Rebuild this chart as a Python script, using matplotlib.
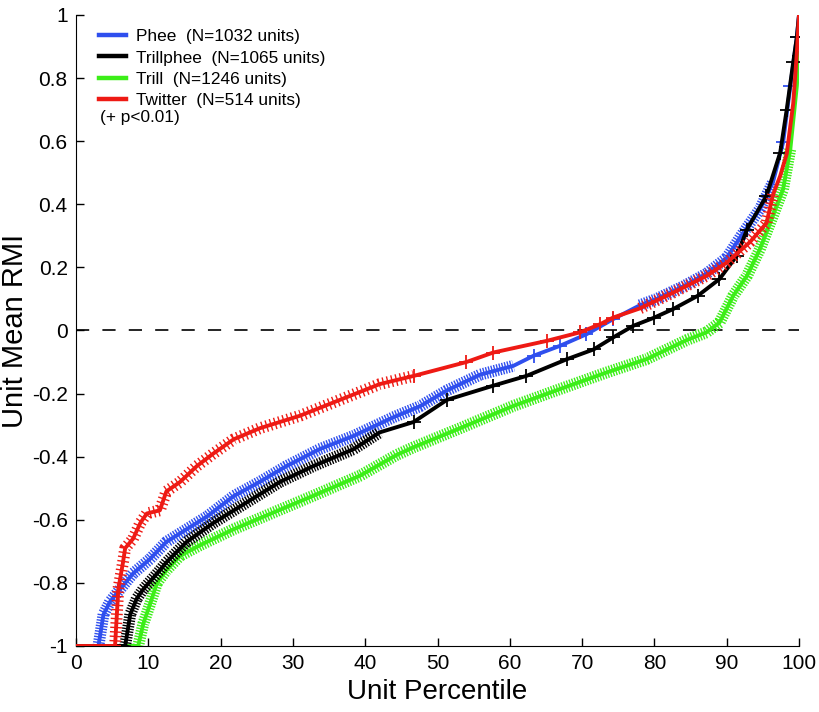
import matplotlib as mpl

mpl.use("Agg")
import matplotlib.pyplot as plt
import numpy as np

plt.rcParams["font.family"] = ["Liberation Sans", "DejaVu Sans"]
plt.rcParams["lines.scale_dashes"] = False

# curves: unit percentile vs sorted mean RMI
phee_pct = [0, 3.1, 3.8, 4.7, 6.1, 7.9, 10.2, 12.5, 15.3, 18.1, 21.8, 25.4, 29.1, 33.7, 38.4,
            43.9, 47.6, 51.3, 55.9, 60.5, 63.3, 66.9, 70.6, 74.3, 78, 80.3, 84, 87.2, 90, 92,
            94.6, 96.4, 97.8, 98.8, 99.7, 100]
phee_rmi = [-1, -1, -0.90, -0.86, -0.82, -0.77, -0.725, -0.67, -0.63, -0.59, -0.525, -0.48, -0.43,
            -0.376, -0.334, -0.275, -0.24, -0.19, -0.14, -0.112, -0.08, -0.049, -0.012, 0.036, 0.08,
            0.10, 0.14, 0.18, 0.23, 0.30, 0.385, 0.47, 0.596, 0.775, 0.93, 1.0]

trillphee_pct = [0, 6.8, 7.5, 8.4, 9.3, 11.6, 12.5, 15.3, 19, 23.6, 28.2, 32.8, 38.4, 42, 46.7,
                 51.3, 57.7, 62.3, 67.9, 71.6, 74.3, 77.1, 79.9, 82.6, 86, 89, 91.4, 92.8, 95.5,
                 97.4, 98.3, 99.2, 99.7, 100]
trillphee_rmi = [-1, -1, -0.90, -0.85, -0.82, -0.76, -0.735, -0.67, -0.61, -0.545, -0.48, -0.43,
                 -0.376, -0.323, -0.29, -0.22, -0.175, -0.144, -0.091, -0.06, -0.022, 0.015, 0.04,
                 0.068, 0.11, 0.163, 0.237, 0.32, 0.427, 0.564, 0.70, 0.85, 0.93, 1.0]

trill_pct = [0, 8.6, 9.3, 10.2, 11.2, 12.5, 14.4, 17.2, 21.8, 27.3, 32.8, 39.3, 44.3, 46.7, 53.1,
             60.5, 66.9, 73.4, 78.9, 84.5, 87.2, 89, 90.9, 92.8, 94.6, 96.4, 97.8, 98.8, 99.7, 100]
trill_rmi = [-1, -1, -0.93, -0.87, -0.80, -0.76, -0.714, -0.68, -0.63, -0.577, -0.524, -0.46,
             -0.395, -0.37, -0.31, -0.239, -0.186, -0.133, -0.091, -0.03, -0.006, 0.025, 0.11,
             0.173, 0.258, 0.364, 0.448, 0.575, 0.775, 0.88]

twitter_pct = [0, 5.4, 5.85, 6.5, 6.8, 7.9, 8.9, 9.8, 11.6, 12.5, 14.4, 16.7, 19, 21.8, 25.4, 31,
               36.5, 42, 46.7, 54, 57.7, 65.1, 69.7, 72.5, 74.3, 78, 80.3, 82.6, 87.2, 90, 93.2,
               95.5, 96.4, 97.4, 98.3, 99.2, 99.7, 100]
twitter_rmi = [-1, -1, -0.82, -0.735, -0.69, -0.66, -0.61, -0.58, -0.57, -0.51, -0.48, -0.43, -0.39,
               -0.345, -0.31, -0.27, -0.22, -0.17, -0.144, -0.10, -0.07, -0.033, -0.006, 0.02,
               0.041, 0.07, 0.095, 0.12, 0.173, 0.215, 0.28, 0.34, 0.43, 0.49, 0.56, 0.72, 0.88, 1.0]

# percentile ranges where nearly every unit is significant (dense + marks)
phee_dense = [(3.1, 62), (76, 96.4)]
trillphee_dense = [(6.8, 45)]
trill_dense = [(8.6, 98.8)]
twitter_dense = [(5.4, 46.7), (77, 96.4)]
# ranges where significant units are only occasional
phee_sparse = [(62, 76), (97, 99.8)]
trillphee_sparse = [(45, 99.8)]
trill_sparse = []
twitter_sparse = [(46, 77)]

series = [
    ("Phee  (N=1032 units)", phee_pct, phee_rmi, phee_dense, phee_sparse, "#2f4fee"),
    ("Trill  (N=1246 units)", trill_pct, trill_rmi, trill_dense, trill_sparse, "#3cee18"),
    ("Trillphee  (N=1065 units)", trillphee_pct, trillphee_rmi, trillphee_dense, trillphee_sparse, "#000000"),
    ("Twitter  (N=514 units)", twitter_pct, twitter_rmi, twitter_dense, twitter_sparse, "#ee1a14"),
]
legend_order = [0, 2, 1, 3]

fig = plt.figure(figsize=(8.19, 7.12), dpi=100)
ax = fig.add_axes([0.0928, 0.0927, 0.8828, 0.8863])

ax.axhline(0, color="black", lw=1.2, linestyle=(0, (9.5, 9.5)), zorder=1)

handles = []
for i, (label, pct, rmi, dense, sparse, color) in enumerate(series):
    pct = np.array(pct)
    rmi = np.array(rmi)
    z = 2 + i
    for lo, hi in dense:
        m = (pct >= lo) & (pct <= hi)
        # thick short-dashed stroke stands in for a run of + marks
        gap = 2.2 if color == "#ee1a14" else 1.0
        ax.plot(pct[m], rmi[m], color=color, lw=8.5, linestyle=(0, (1.0, gap)),
                solid_capstyle="butt", dash_capstyle="butt", zorder=z)
    for lo, hi in sparse:
        m = (pct >= lo) & (pct <= hi)
        ax.plot(pct[m], rmi[m], "+", color=color, ms=10, mew=1.3, zorder=z)
    (h,) = ax.plot(pct, rmi, color=color, lw=2.8, zorder=z)
    handles.append(h)

leg = ax.legend([handles[k] for k in legend_order], [series[k][0] for k in legend_order],
                loc="upper left", bbox_to_anchor=(0.008, 1.005), frameon=False, fontsize=12.4,
                handlelength=1.55, handletextpad=0.6, labelspacing=0.37, borderaxespad=0.6)
for line in leg.get_lines():
    line.set_linewidth(3.2)
ax.text(0.033, 0.837, "(+ p<0.01)", transform=ax.transAxes, fontsize=12.4, va="center")

ax.set_xlim(0, 100)
ax.set_ylim(-1, 1)
ax.set_xticks(np.arange(0, 101, 10))
ax.set_yticks(np.round(np.arange(-1, 1.01, 0.2), 1))
ax.set_yticklabels(["-1", "-0.8", "-0.6", "-0.4", "-0.2", "0", "0.2", "0.4", "0.6", "0.8", "1"])
ax.tick_params(direction="in", length=6, width=1, labelsize=15, pad=6)
ax.spines["top"].set_visible(False)
ax.spines["right"].set_visible(False)
ax.set_xlabel("Unit Percentile", fontsize=20, labelpad=4)
ax.set_ylabel("Unit Mean RMI", fontsize=21, labelpad=2)

fig.savefig("out.png", dpi=100)
